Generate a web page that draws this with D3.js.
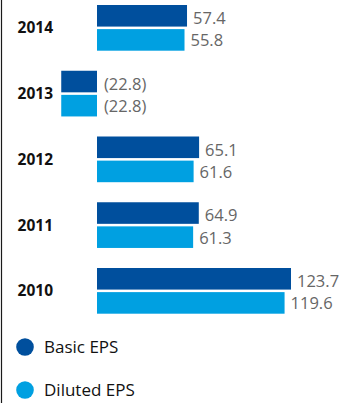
<!DOCTYPE html>
<html>
<head>
<meta charset="utf-8">
<script src="https://cdn.jsdelivr.net/npm/d3@7/dist/d3.min.js"></script>
<style>
  html, body { margin: 0; padding: 0; background: #fff; }
  svg { display: block; font-family: "Open Sans", sans-serif; }
</style>
</head>
<body>
<svg id="chart" width="342" height="403"></svg>
<script>
// Earnings per share by year (negative values shown in parentheses)
const years = ["2014", "2013", "2012", "2011", "2010"];
const seriesNames = ["Basic EPS", "Diluted EPS"];
const basicEps = [57.4, -22.8, 65.1, 64.9, 123.7];
const dilutedEps = [55.8, -22.8, 61.6, 61.3, 119.6];
const seriesColors = ["#004f9d", "#00a0e1"];

const rows = years.map((y, i) => ({ year: y, values: [basicEps[i], dilutedEps[i]] }));

const svg = d3.select("#chart");

// Left rule
svg.append("line")
  .attr("x1", 1.5).attr("x2", 1.5)
  .attr("y1", 0).attr("y2", 403)
  .attr("stroke", "#1a1a1a").attr("stroke-width", 1.2);

const x = d3.scaleLinear()
  .domain([0, d3.max(basicEps)])
  .range([97, 291]);

const y = d3.scaleBand()
  .domain(years)
  .range([5, 313.7])
  .paddingInner(0.305)
  .paddingOuter(0);

const ySub = d3.scaleBand()
  .domain(seriesNames)
  .range([0, y.bandwidth()])
  .paddingInner(0.105);

// Label baselines measured from each bar's top edge
const labelOffset = [19, 17.3];

const fmt = v => v < 0 ? "(" + d3.format(".1f")(-v) + ")" : d3.format(".1f")(v);

const groups = svg.selectAll("g.year")
  .data(rows)
  .join("g")
  .attr("class", "year")
  .attr("transform", d => `translate(0,${y(d.year)})`);

groups.append("text")
  .attr("x", 53)
  .attr("y", y.bandwidth() / 2 + 5.6)
  .attr("text-anchor", "end")
  .attr("font-weight", 700)
  .attr("font-size", 15.5)
  .attr("fill", "#111")
  .text(d => d.year);

groups.selectAll("rect")
  .data(d => d.values.map((v, j) => ({ v, j })))
  .join("rect")
  .attr("x", d => x(Math.min(0, d.v)))
  .attr("width", d => Math.abs(x(d.v) - x(0)))
  .attr("y", d => ySub(seriesNames[d.j]))
  .attr("height", ySub.bandwidth())
  .attr("fill", d => seriesColors[d.j]);

groups.selectAll("text.val")
  .data(d => d.values.map((v, j) => ({ v, j })))
  .join("text")
  .attr("class", "val")
  .attr("x", d => x(Math.max(0, d.v)) + (d.v < 0 ? 7 : 6))
  .attr("y", d => ySub(seriesNames[d.j]) + labelOffset[d.j])
  .attr("font-size", 16.5)
  .attr("fill", "#666")
  .text(d => fmt(d.v));

// Legend
const legend = svg.selectAll("g.legend")
  .data(seriesNames)
  .join("g")
  .attr("class", "legend")
  .attr("transform", (d, i) => `translate(0,${347 + i * 43})`);

legend.append("circle")
  .attr("cx", 25).attr("cy", 0).attr("r", 8.8)
  .attr("fill", (d, i) => seriesColors[i]);

legend.append("text")
  .attr("x", 44).attr("y", 5.8)
  .attr("font-size", 17)
  .attr("fill", "#111")
  .text(d => d);
</script>
</body>
</html>
